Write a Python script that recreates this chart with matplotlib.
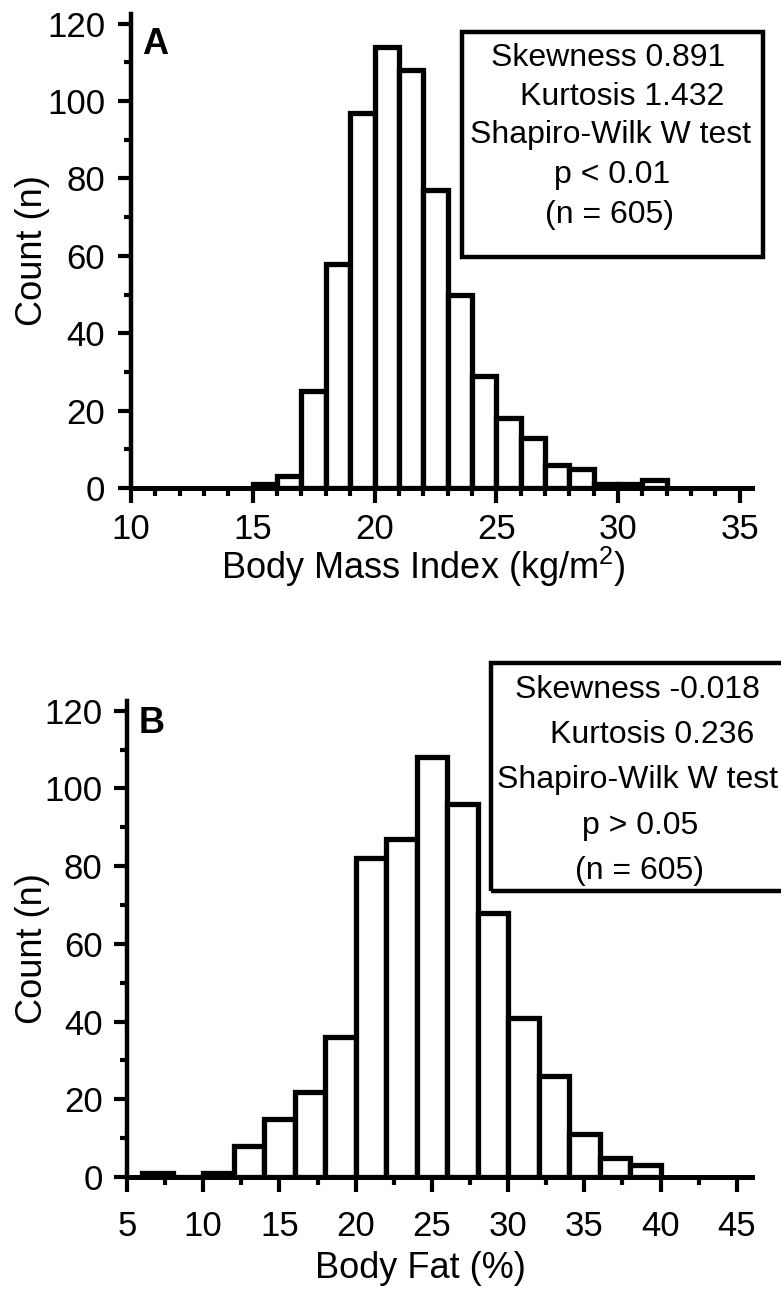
import numpy as np
import matplotlib
matplotlib.use('Agg')
import matplotlib.pyplot as plt
from matplotlib.patches import Rectangle
from matplotlib.ticker import MultipleLocator

plt.rcParams['font.family'] = ['Liberation Sans', 'DejaVu Sans']
plt.rcParams['mathtext.fontset'] = 'custom'
plt.rcParams['mathtext.rm'] = 'Liberation Sans'
plt.rcParams['mathtext.default'] = 'regular'

# panel A: body mass index, 1 kg/m2 bins
bmi_edges = np.arange(15, 32)
bmi_counts = [1, 3, 25, 58, 97, 114, 108, 77, 50, 29, 18, 13, 6, 5, 1, 1, 2]
bmi_stats = ['Skewness 0.891', 'Kurtosis 1.432', 'Shapiro-Wilk W test', 'p < 0.01', '(n = 605)']

# panel B: body fat, 2 % bins
fat_edges = np.arange(6, 40, 2)
fat_counts = [1, 0, 1, 8, 15, 22, 36, 82, 87, 108, 96, 68, 41, 26, 11, 5, 3]
fat_stats = ['Skewness -0.018', 'Kurtosis 0.236', 'Shapiro-Wilk W test', 'p > 0.05', '(n = 605)']

W, H = 781, 1290
fig = plt.figure(figsize=(W/100, H/100), dpi=100)

def style(ax, xmin, xmax, xmaj, xmin_step, xpad, ypad):
    ax.set_xlim(xmin, xmax)
    ax.set_ylim(0, 122.5)
    ax.spines['top'].set_visible(False)
    ax.spines['right'].set_visible(False)
    ax.spines['left'].set_linewidth(3.2)
    ax.spines['bottom'].set_linewidth(3.6)
    ax.xaxis.set_major_locator(MultipleLocator(xmaj))
    ax.xaxis.set_minor_locator(MultipleLocator(xmin_step))
    ax.yaxis.set_major_locator(MultipleLocator(20))
    ax.yaxis.set_minor_locator(MultipleLocator(10))
    ax.tick_params(axis='x', which='major', length=11, width=3, pad=xpad, labelsize=25)
    ax.tick_params(axis='x', which='minor', length=6, width=3)
    ax.tick_params(axis='y', which='major', length=9.5, width=3, pad=ypad, labelsize=25)
    ax.tick_params(axis='y', which='minor', length=5, width=3)
    ax.set_ylabel('Count (n)', fontsize=26)

def stats_box(ax, rect, lines, xs, ys):
    ax.add_patch(Rectangle(rect[:2], rect[2], rect[3], fill=False, lw=3.2, ec='black',
                           clip_on=False, zorder=5))
    for s, x, y in zip(lines, xs, ys):
        ax.text(x, y, s, fontsize=23, ha='center', va='center', clip_on=False)

# top panel
ax1 = fig.add_axes([131/W, 1 - 488/H, 621/W, 474/H])
ax1.bar(bmi_edges, bmi_counts, width=1, align='edge', color='white',
        edgecolor='black', linewidth=3.8, zorder=3)
style(ax1, 10, 35.5, 5, 1, 7, 9)
ax1.set_xlabel('Body Mass Index (kg/m$^{2}$)', fontsize=26)
ax1.xaxis.set_label_coords(0.47, -0.12)
ax1.yaxis.set_label_coords(-0.13, 0.5)
ax1.text(11.0, 114.7, 'A', fontsize=26, fontweight='bold', ha='center', va='center')
stats_box(ax1, (23.6, 59.7, 12.35, 58.1), bmi_stats,
          [29.58, 30.16, 29.70, 29.75, 29.66], [111.1, 101.0, 91.2, 80.9, 70.5])

# bottom panel
ax2 = fig.add_axes([127/W, 1 - 1177/H, 625/W, 476/H])
ax2.bar(fat_edges, fat_counts, width=2, align='edge', color='white',
        edgecolor='black', linewidth=3.8, zorder=3)
style(ax2, 5, 46, 5, 2.5, 13, 8)
ax2.set_xlabel('Body Fat (%)', fontsize=26)
ax2.xaxis.set_label_coords(0.47, -0.155)
ax2.yaxis.set_label_coords(-0.123, 0.48)
ax2.text(6.64, 116.8, 'B', fontsize=26, fontweight='bold', ha='center', va='center')
stats_box(ax2, (28.87, 73.6, 20, 58.7), fat_stats,
          [38.51, 39.43, 38.51, 38.64, 38.64], [125.3, 113.7, 102.1, 90.4, 78.8])

plt.savefig('out.png', dpi=100)
